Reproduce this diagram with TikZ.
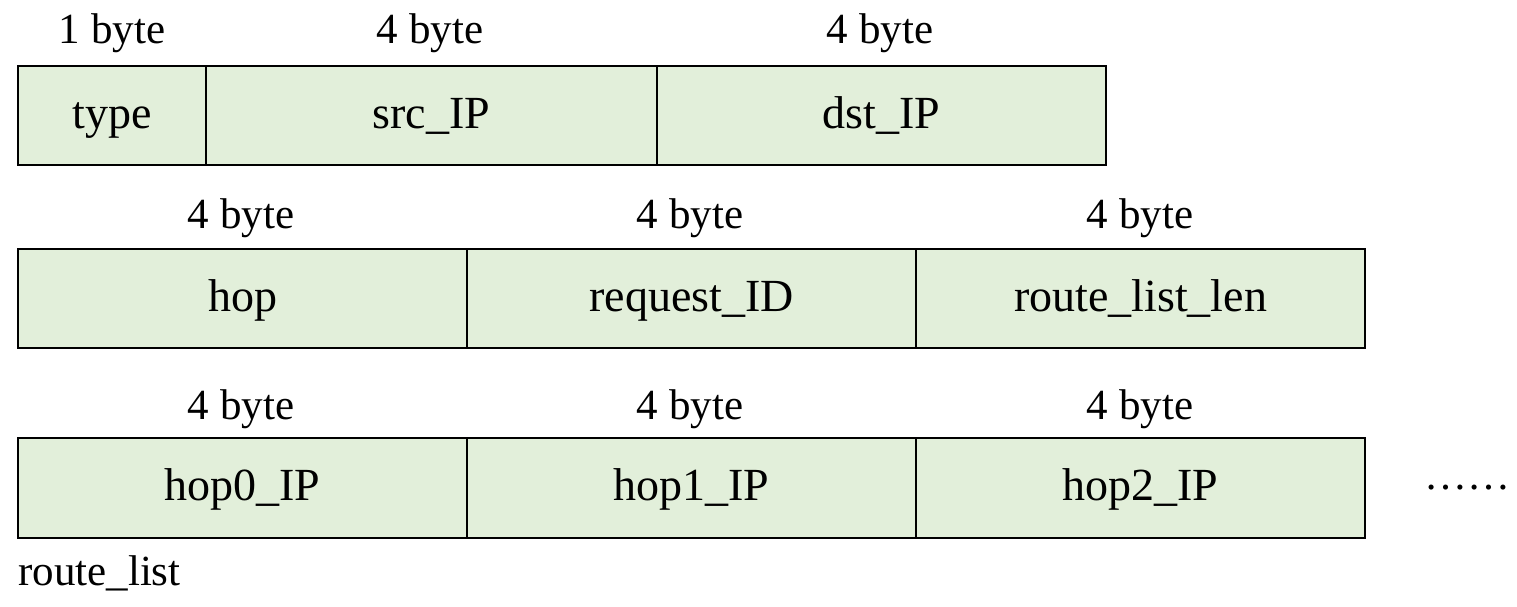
\documentclass[tikz,border=0pt]{standalone}
\usepackage{fontspec}
\setmainfont{Liberation Serif}
\definecolor{cellfill}{HTML}{E2EFDA}
\tikzset{
  cell/.style={draw=black, fill=cellfill, line width=2pt, rectangle, inner sep=0pt, anchor=north west},
  boxtxt/.style={anchor=base, inner sep=0pt, font=\fontsize{46}{54}\selectfont},
  lbl/.style={anchor=base, inner sep=0pt, font=\fontsize{43}{50}\selectfont},
}
\begin{document}
\begin{tikzpicture}[x=1pt,y=-1pt]
\useasboundingbox (0,0) rectangle (1517,606);
% row 1
\node[cell, minimum width=188pt, minimum height=99pt] (type) at (17,65) {};
\node[cell, minimum width=451pt, minimum height=99pt] (src) at (205,65) {};
\node[cell, minimum width=449pt, minimum height=99pt] (dst) at (656,65) {};
\node[boxtxt] (typet) at ([yshift=-63pt]type.north) {type};
\node[boxtxt] (srct) at ([yshift=-63pt]src.north) {src\_IP};
\node[boxtxt] (dstt) at ([yshift=-63pt]dst.north) {dst\_IP};
\node[lbl] (l11) at (112,43) {1 byte};
\node[lbl] (l12) at (430,43) {4 byte};
\node[lbl] (l13) at (880,43) {4 byte};
% row 2
\node[cell, minimum width=449pt, minimum height=99pt] (hop) at (17,248) {};
\node[cell, minimum width=449pt, minimum height=99pt] (req) at (466,248) {};
\node[cell, minimum width=449pt, minimum height=99pt] (rll) at (915,248) {};
\node[boxtxt] (hopt) at ([yshift=-63pt]hop.north) {hop};
\node[boxtxt] (reqt) at ([yshift=-63pt]req.north) {request\_ID};
\node[boxtxt] (rllt) at ([yshift=-63pt]rll.north) {route\_list\_len};
\node[lbl] (l21) at (241,228) {4 byte};
\node[lbl] (l22) at (690,228) {4 byte};
\node[lbl] (l23) at (1140,228) {4 byte};
% row 3
\node[cell, minimum width=449pt, minimum height=100pt] (h0) at (17,437) {};
\node[cell, minimum width=449pt, minimum height=100pt] (h1) at (466,437) {};
\node[cell, minimum width=449pt, minimum height=100pt] (h2) at (915,437) {};
\node[boxtxt] (h0t) at ([yshift=-63pt]h0.north) {hop0\_IP};
\node[boxtxt] (h1t) at ([yshift=-63pt]h1.north) {hop1\_IP};
\node[boxtxt] (h2t) at ([yshift=-63pt]h2.north) {hop2\_IP};
\node[lbl] (l31) at (241,419) {4 byte};
\node[lbl] (l32) at (690,419) {4 byte};
\node[lbl] (l33) at (1140,419) {4 byte};
\node[lbl, anchor=base west] (dots) at (1424,489) {……};
\node[lbl, anchor=base west] (rl) at (18,585) {route\_list};
\end{tikzpicture}
\end{document}
